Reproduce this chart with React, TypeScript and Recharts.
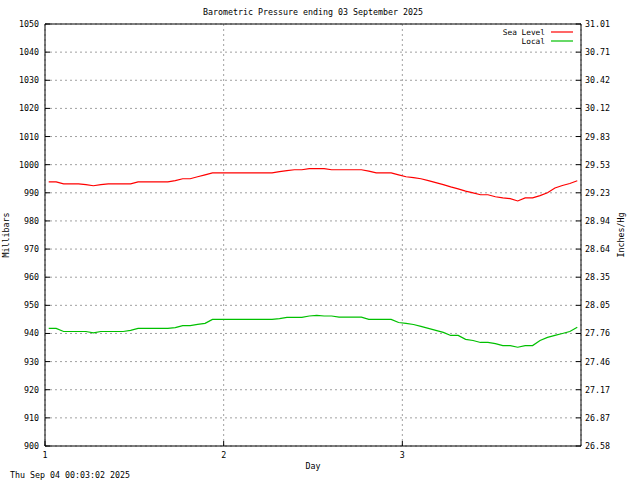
import { LineChart, Line, XAxis, YAxis, CartesianGrid, ReferenceLine } from 'recharts';

// hourly readings across the three days (millibars)
const seaLevel = [
  993.9, 993.9, 993.2, 993.2, 993.2, 992.9, 992.5, 992.9, 993.2, 993.2, 993.2, 993.2,
  993.9, 993.9, 993.9, 993.9, 993.9, 994.3, 995.0, 995.0, 995.7, 996.4, 997.1, 997.1,
  997.1, 997.1, 997.1, 997.1, 997.1, 997.1, 997.1, 997.5, 997.9, 998.2, 998.2, 998.6,
  998.6, 998.6, 998.2, 998.2, 998.2, 998.2, 998.2, 997.7, 997.1, 997.1, 997.1, 996.4,
  995.7, 995.4, 995.0, 994.3, 993.6, 992.9, 992.1, 991.4, 990.6, 990.0, 989.3, 989.3,
  988.6, 988.2, 987.9, 987.1, 988.2, 988.2, 989.0, 990.0, 991.7, 992.6, 993.3, 994.3
];

const local = [
  941.8, 941.8, 940.7, 940.7, 940.7, 940.7, 940.2, 940.7, 940.7, 940.7, 940.7, 941.1,
  941.8, 941.8, 941.8, 941.8, 941.8, 942.1, 942.8, 942.8, 943.2, 943.6, 945.0, 945.0,
  945.0, 945.0, 945.0, 945.0, 945.0, 945.0, 945.0, 945.3, 945.7, 945.7, 945.7, 946.2,
  946.4, 946.2, 946.2, 945.8, 945.8, 945.8, 945.8, 945.0, 945.0, 945.0, 945.0, 943.9,
  943.6, 943.2, 942.5, 941.8, 941.1, 940.4, 939.3, 939.3, 937.9, 937.5, 936.8, 936.8,
  936.4, 935.7, 935.7, 935.1, 935.7, 935.7, 937.5, 938.6, 939.3, 940.0, 940.7, 942.2
];

const dayTicks = [1, 2, 3];
const mbTicks = [900, 910, 920, 930, 940, 950, 960, 970, 980, 990, 1000, 1010, 1020, 1030, 1040, 1050];
const inchLabels = [
  '26.58', '26.87', '27.17', '27.46', '27.76', '28.05', '28.35', '28.64',
  '28.94', '29.23', '29.53', '29.83', '30.12', '30.42', '30.71', '31.01'
];

const series = [
  { key: 'sea', name: 'Sea Level', color: '#ff0000' },
  { key: 'local', name: 'Local', color: '#00c000' }
];

const data = seaLevel.map((v, i) => ({
  day: 1 + (i + 0.5) / 24,
  sea: v,
  local: local[i]
}));

const FONT = '"DejaVu Sans Mono", monospace';
const FS = 8.3;
const LEFT = 45;
const RIGHT = 581;
const BOTTOM = 446;

const LeftTick = ({ x, y, payload }: any) => (
  <g>
    <line x1={LEFT} x2={LEFT + 5} y1={y} y2={y} stroke="#000" />
    <text x={x} y={y} dy={3} textAnchor="end" fontFamily={FONT} fontSize={FS} fill="#000">
      {payload.value}
    </text>
  </g>
);

const RightTick = ({ x, y, payload, index }: any) => (
  <g>
    <line x1={RIGHT - 5} x2={RIGHT} y1={y} y2={y} stroke="#000" />
    <text x={x} y={y} dy={3} textAnchor="start" fontFamily={FONT} fontSize={FS} fill="#000">
      {inchLabels[mbTicks.indexOf(payload.value)] ?? inchLabels[index]}
    </text>
  </g>
);

const DayTick = ({ x, y, payload }: any) => (
  <g>
    <line x1={x} x2={x} y1={BOTTOM - 5} y2={BOTTOM} stroke="#000" />
    <text x={x} y={y} dy={7} textAnchor="middle" fontFamily={FONT} fontSize={FS} fill="#000">
      {payload.value}
    </text>
  </g>
);

export default function App() {
  return (
    <div style={{ position: 'absolute', left: 0, top: 0, width: 640, height: 480, background: '#fff' }}>
      <LineChart width={640} height={480} data={data} margin={{ top: 24, right: 0, bottom: 0, left: 0 }}>
        <CartesianGrid yAxisId="left" stroke="#a0a0a0" strokeDasharray="2 3" />
        <XAxis
          dataKey="day"
          type="number"
          domain={[1, 4]}
          ticks={dayTicks}
          height={34}
          stroke="#000"
          tickLine={false}
          tickSize={0}
          tickMargin={5}
          tick={<DayTick />}
        />
        <YAxis
          yAxisId="left"
          type="number"
          domain={[900, 1050]}
          ticks={mbTicks}
          width={45}
          stroke="#000"
          tickLine={false}
          tickSize={0}
          tickMargin={6}
          tick={<LeftTick />}
          interval={0}
        />
        <YAxis
          yAxisId="right"
          orientation="right"
          type="number"
          domain={[900, 1050]}
          ticks={mbTicks}
          width={59}
          stroke="#000"
          tickLine={false}
          tickSize={0}
          tickMargin={4}
          tick={<RightTick />}
          interval={0}
          allowDataOverflow
        />
        <ReferenceLine yAxisId="left" y={1050} stroke="#000" />
        {series.map(s => (
          <Line
            key={s.key}
            yAxisId="left"
            dataKey={s.key}
            name={s.name}
            stroke={s.color}
            strokeWidth={1.2}
            dot={false}
            isAnimationActive={false}
          />
        ))}
      </LineChart>
      <svg width={640} height={480} style={{ position: 'absolute', left: 0, top: 0, pointerEvents: 'none' }}>
        <g fontFamily={FONT} fontSize={FS} fill="#000">
          <text x={313} y={15} textAnchor="middle">Barometric Pressure ending 03 September 2025</text>
          <text x={313} y={469} textAnchor="middle">Day</text>
          <text x={10} y={478}>Thu Sep 04 00:03:02 2025</text>
          <text transform="translate(9,235) rotate(-90)" textAnchor="middle">Millibars</text>
          <text transform="translate(624,235) rotate(-90)" textAnchor="middle">Inches/Hg</text>
        </g>
        {series.map((s, i) => (
          <g key={s.key}>
            <text x={545} y={34.5 + i * 9} textAnchor="end" fontFamily={FONT} fontSize={7.8} fill="#000">
              {s.name}
            </text>
            <line x1={551} x2={573} y1={32 + i * 9} y2={32 + i * 9} stroke={s.color} strokeWidth={1.2} />
          </g>
        ))}
      </svg>
    </div>
  );
}
